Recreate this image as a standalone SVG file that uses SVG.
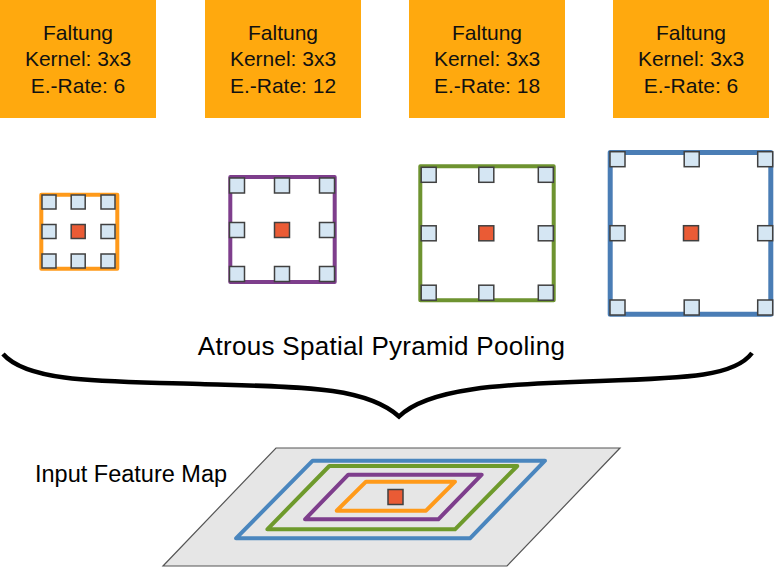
<svg xmlns="http://www.w3.org/2000/svg" width="781" height="578" viewBox="0 0 781 578">
<style>
.box{fill:#FFA90E;}
.lbl{font-family:"Liberation Sans",Arial,sans-serif;font-size:21px;fill:#111;text-anchor:middle;}
.cell{fill:#D5E6F3;stroke:#404040;stroke-width:1.5;}
.ctr{fill:#EA5B35;stroke:#404040;stroke-width:1.5;}
.frame{fill:#fff;stroke-linejoin:round;}
.ring{fill:none;stroke-width:4;stroke-linejoin:round;}
.big{font-family:"Liberation Sans",Arial,sans-serif;fill:#000;}
</style>
<defs>
<rect id="c14" class="cell" x="-7" y="-7" width="14" height="14"/>
<rect id="c15" class="cell" x="-7.5" y="-7.5" width="15" height="15"/>
<rect id="r14" class="ctr" x="-7" y="-7" width="14" height="14"/>
<rect id="r15" class="ctr" x="-7.5" y="-7.5" width="15" height="15"/>
</defs>

<g id="conv1">
<rect class="box" x="0" y="0" width="156" height="118"/>
<text class="lbl" x="78" y="40">Faltung</text>
<text class="lbl" x="78" y="66">Kernel: 3x3</text>
<text class="lbl" x="78" y="93">E.-Rate: 6</text>
</g>
<g id="conv2">
<rect class="box" x="205" y="0" width="156" height="118"/>
<text class="lbl" x="283" y="40">Faltung</text>
<text class="lbl" x="283" y="66">Kernel: 3x3</text>
<text class="lbl" x="283" y="93">E.-Rate: 12</text>
</g>
<g id="conv3">
<rect class="box" x="409" y="0" width="156" height="118"/>
<text class="lbl" x="487" y="40">Faltung</text>
<text class="lbl" x="487" y="66">Kernel: 3x3</text>
<text class="lbl" x="487" y="93">E.-Rate: 18</text>
</g>
<g id="conv4">
<rect class="box" x="613" y="0" width="156" height="118"/>
<text class="lbl" x="691" y="40">Faltung</text>
<text class="lbl" x="691" y="66">Kernel: 3x3</text>
<text class="lbl" x="691" y="93">E.-Rate: 6</text>
</g>

<g id="kernel1">
<rect class="frame" x="41.3" y="194.7" width="76" height="74" stroke="#FF9A1A" stroke-width="4"/>
<use href="#c14" x="49" y="202"/><use href="#c14" x="78.2" y="202"/><use href="#c14" x="108" y="202"/>
<use href="#c14" x="49" y="231.5"/><use href="#r14" x="78.2" y="231.5"/><use href="#c14" x="108" y="231.5"/>
<use href="#c14" x="49" y="261"/><use href="#c14" x="78.2" y="261"/><use href="#c14" x="108" y="261"/>
</g>
<g id="kernel2">
<rect class="frame" x="230.3" y="177" width="104.4" height="105" stroke="#7E3E8C" stroke-width="4"/>
<use href="#c15" x="237" y="185.5"/><use href="#c15" x="282" y="185.5"/><use href="#c15" x="327" y="185.5"/>
<use href="#c15" x="237" y="230"/><use href="#r15" x="282" y="230"/><use href="#c15" x="327" y="230"/>
<use href="#c15" x="237" y="274"/><use href="#c15" x="282" y="274"/><use href="#c15" x="327" y="274"/>
</g>
<g id="kernel3">
<rect class="frame" x="420.3" y="166.3" width="133.4" height="134" stroke="#6E9330" stroke-width="4"/>
<use href="#c15" x="428.7" y="174.8"/><use href="#c15" x="486.3" y="174.8"/><use href="#c15" x="545.8" y="174.8"/>
<use href="#c15" x="428.7" y="233.3"/><use href="#r15" x="486.3" y="233.3"/><use href="#c15" x="545.8" y="233.3"/>
<use href="#c15" x="428.7" y="292.7"/><use href="#c15" x="486.3" y="292.7"/><use href="#c15" x="545.8" y="292.7"/>
</g>
<g id="kernel4">
<rect class="frame" x="610.2" y="152.5" width="160.6" height="161.7" stroke="#4A7DB5" stroke-width="5"/>
<use href="#c15" x="617.5" y="159.2"/><use href="#c15" x="691.7" y="159.2"/><use href="#c15" x="765.2" y="159.2"/>
<use href="#c15" x="617.5" y="233.2"/><use href="#r15" x="691" y="233.2"/><use href="#c15" x="765.2" y="233.2"/>
<use href="#c15" x="617.5" y="307.5"/><use href="#c15" x="691.7" y="307.5"/><use href="#c15" x="765.2" y="307.5"/>
</g>

<g id="aspp">
<text class="big" x="381.5" y="355" font-size="26" letter-spacing="0.3" text-anchor="middle">Atrous Spatial Pyramid Pooling</text>
</g>

<g id="connectors">
<path d="M3,354 C30,385 120,381 200,384 C300,387 365,386 399,416.5 C428,388 500,384 600,381 C690,378 735,376 752,353" fill="none" stroke="#000" stroke-width="4.5" stroke-linejoin="miter"/>
</g>

<g id="featuremap">
<text class="big" x="35" y="481.5" font-size="23.5">Input Feature Map</text>
<polygon points="276,448 620,448 507,566 163,566" fill="#E6E6E6" stroke="#555" stroke-width="1.2"/>
<polygon class="ring" points="312.7,460.7 545,460.7 470,538.3 236,538.3" stroke="#4A86BE"/>
<polygon class="ring" points="329.3,466 517.3,466 455,529.3 267.3,529.3" stroke="#6E9A2C"/>
<polygon class="ring" points="348.3,474.7 481.7,474.7 438.3,519.3 305,519.3" stroke="#7E3E8C"/>
<polygon class="ring" points="366,481.7 455,481.7 426,510.7 336.7,510.7" stroke="#FF9A1A"/>
<rect class="ctr" x="388" y="489.5" width="15" height="15"/>
</g>
</svg>
